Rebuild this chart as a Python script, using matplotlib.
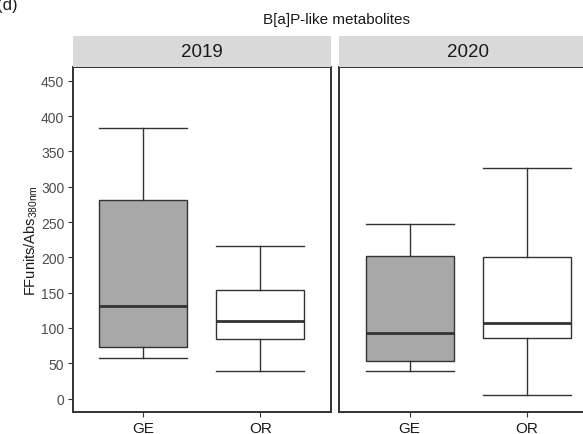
import matplotlib
matplotlib.use("Agg")
import matplotlib.pyplot as plt

plt.rcParams['font.family'] = ['Liberation Sans', 'DejaVu Sans']
plt.rcParams['mathtext.fontset'] = 'custom'
plt.rcParams['mathtext.rm'] = 'Liberation Sans'

years = ['2019', '2020']
groups = ['GE', 'OR']
fills = ['#a8a8a8', '#ffffff']

# box stats per year: GE, OR
whis_low = {'2019': [57.5, 38.6], '2020': [39.5, 5.1]}
q1 = {'2019': [73.5, 84.4], '2020': [53.7, 86.3]}
median = {'2019': [131.2, 109.9], '2020': [93.4, 107.0]}
q3 = {'2019': [281.8, 154.3], '2020': [201.6, 201.0]}
whis_high = {'2019': [383.7, 215.7], '2020': [246.9, 326.6]}

yticks = [0, 50, 100, 150, 200, 250, 300, 350, 400, 450]

fig = plt.figure(figsize=(5.83, 4.35), dpi=100)

W, H = 583, 435
panel_left = [72.7, 339.3]
panel_w = 258.0
panel_top, panel_bot = 67.7, 413.3
strip_top = 36.7

dark = '#333333'

for i, yr in enumerate(years):
    x0 = panel_left[i] / W
    ax = fig.add_axes([x0, (H - panel_bot) / H, panel_w / W, (panel_bot - panel_top) / H])
    stats = []
    for j, g in enumerate(groups):
        stats.append(dict(label=g, whislo=whis_low[yr][j], q1=q1[yr][j],
                          med=median[yr][j], q3=q3[yr][j], whishi=whis_high[yr][j],
                          fliers=[]))
    bp = ax.bxp(stats, positions=[1, 2], widths=0.75, capwidths=0.75,
                patch_artist=True, showfliers=False,
                boxprops=dict(edgecolor=dark, linewidth=1.0),
                whiskerprops=dict(color=dark, linewidth=1.0),
                capprops=dict(color=dark, linewidth=1.0),
                medianprops=dict(color=dark, linewidth=2.0))
    for patch, c in zip(bp['boxes'], fills):
        patch.set_facecolor(c)
    ax.set_xlim(0.4, 2.6)
    ax.set_ylim(-19.4, 470)
    ax.set_yticks(yticks)
    ax.tick_params(axis='both', colors=dark, length=3.5, width=0.8, pad=2.5)
    ax.tick_params(axis='y', labelsize=10, labelcolor='#4d4d4d')
    ax.tick_params(axis='x', labelsize=11, labelcolor='#1a1a1a')
    for s in ax.spines.values():
        s.set_color(dark)
        s.set_linewidth(1.4)
    if i == 0:
        ax.set_ylabel('FFunits/Abs$_{\\mathregular{380nm}}$', fontsize=10.5,
                      color='#1a1a1a', labelpad=1)
    else:
        ax.tick_params(axis='y', left=False, labelleft=False)

    sax = fig.add_axes([x0, (H - panel_top) / H, panel_w / W, (panel_top - strip_top) / H])
    sax.set_facecolor('#d9d9d9')
    sax.set_xticks([])
    sax.set_yticks([])
    for s in sax.spines.values():
        s.set_visible(False)
    sax.text(0.5, 0.5, yr, ha='center', va='center', fontsize=13.5,
             color='#1a1a1a', transform=sax.transAxes)

fig.text(336 / W, 1 - 20 / H, 'B[a]P-like metabolites', ha='center', va='center',
         fontsize=11, color='#1a1a1a')
fig.text(-0.006, 1 - 10 / H, '(d)', ha='left', va='baseline', fontsize=12, color='#1a1a1a')

fig.savefig('out.png', dpi=100)
